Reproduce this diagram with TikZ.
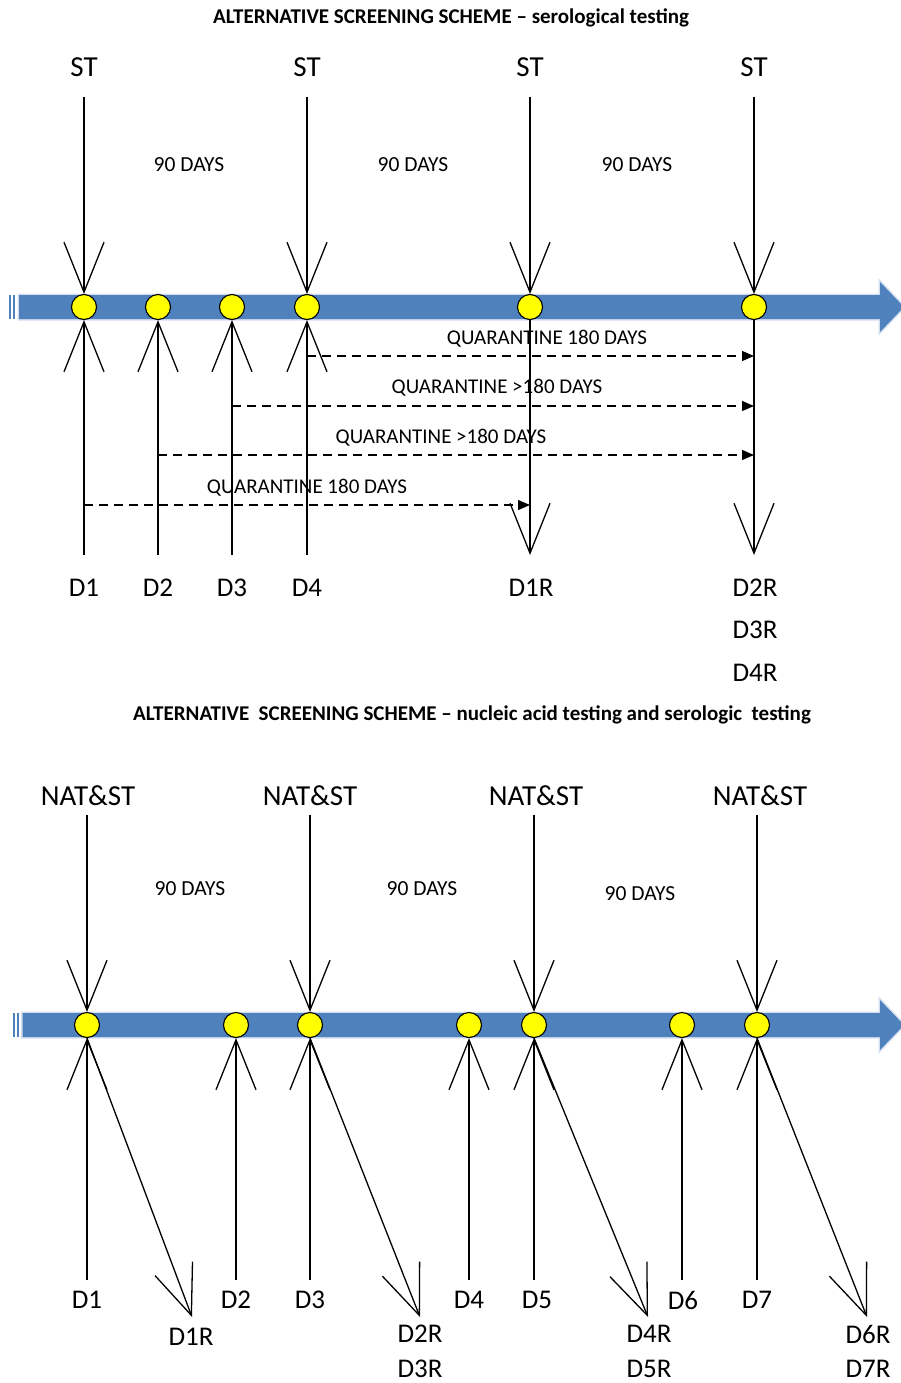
\documentclass[tikz,border=0pt]{standalone}
\usepackage{fontspec}
\setmainfont{Carlito}
\usetikzlibrary{arrows.meta}
\definecolor{bandblue}{RGB}{79,129,189}
\definecolor{glowblue}{RGB}{180,200,230}
\definecolor{dotyellow}{RGB}{255,255,0}
\tikzset{
  Wide/.tip={Straight Barb[length=50pt,width=40pt]},
  Head/.tip={Triangle[length=12pt,width=10pt]},
  conn/.style={line width=1.3pt,draw=black},
  dot/.style={circle,draw=black,line width=1.1pt,fill=dotyellow,minimum size=25pt,inner sep=0pt},
  quar/.style={line width=1.1pt,dash pattern=on 9pt off 6pt,-Head},
  band/.style={fill=bandblue},
  glow/.style={draw=glowblue,line width=3pt,opacity=0.6},
  ttl/.style={font=\fontsize{21}{23}\selectfont\bfseries},
  big/.style={font=\fontsize{29}{31}\selectfont},
  dlab/.style={font=\fontsize{27}{29}\selectfont},
  days/.style={font=\fontsize{21.5}{23}\selectfont},
  qlab/.style={font=\fontsize{21}{23}\selectfont},
}
\begin{document}
\begin{tikzpicture}[x=1pt,y=-1pt]
\useasboundingbox (0,0) rectangle (901,1383);
\clip (0,0) rectangle (901,1383);

% ===================== TOP PANEL =====================
\node[ttl] (title1) at (451,18) {ALTERNATIVE SCREENING SCHEME -- serological testing};

% band
\path[glow] (19,295) -- (880,295) -- (880,282) -- (904,307) -- (880,332) -- (880,319) -- (19,319) -- cycle;
\path[band] (19,295) -- (880,295) -- (880,282) -- (904,307) -- (880,332) -- (880,319) -- (19,319) -- cycle;
\fill[bandblue] (9,295) rectangle (11,319);
\fill[bandblue] (12.5,295) rectangle (14.5,319);

% labels
\foreach \x/\n in {84/1,307/2,530/3,754/4}{
  \node[big] (st\n) at (\x,67) {ST};
  \coordinate (ts\n) at (\x,97);
}
\node[days] (dA) at (189,165) {90 DAYS};
\node[days] (dB) at (413,165) {90 DAYS};
\node[days] (dC) at (637,165) {90 DAYS};

% dots
\node[dot] (a1) at (84,307) {};
\node[dot] (a2) at (158,307) {};
\node[dot] (a3) at (232,307) {};
\node[dot] (a4) at (307,307) {};
\node[dot] (a5) at (530,307) {};
\node[dot] (a6) at (754,307) {};

% ST arrows
\draw[conn,-Wide] (ts1) -- (a1.north);
\draw[conn,-Wide] (ts2) -- (a4.north);
\draw[conn,-Wide] (ts3) -- (a5.north);
\draw[conn,-Wide] (ts4) -- (a6.north);

% donor lines
\foreach \x/\n in {84/1,158/2,232/3,307/4,530/5,754/6}{
  \coordinate (be\n) at (\x,555);
}
\draw[conn,Wide-] (a1.south) -- (be1);
\draw[conn,Wide-] (a2.south) -- (be2);
\draw[conn,Wide-] (a3.south) -- (be3);
\draw[conn,Wide-] (a4.south) -- (be4);
\draw[conn,-Wide] (a5.south) -- (be5);
\draw[conn,-Wide] (a6.south) -- (be6);

% quarantine arrows
\coordinate (q4s) at (307,356); \coordinate (q4e) at (754,356);
\coordinate (q3s) at (232,406); \coordinate (q3e) at (754,406);
\coordinate (q2s) at (158,455); \coordinate (q2e) at (754,455);
\coordinate (q1s) at (84,505);  \coordinate (q1e) at (530,505);
\draw[quar] (q4s) -- (q4e);
\draw[quar] (q3s) -- (q3e);
\draw[quar] (q2s) -- (q2e);
\draw[quar] (q1s) -- (q1e);
\node[qlab] (ql4) at (547,339) {QUARANTINE 180 DAYS};
\node[qlab] (ql3) at (497,388) {QUARANTINE >180 DAYS};
\node[qlab] (ql2) at (441,438) {QUARANTINE >180 DAYS};
\node[qlab] (ql1) at (307,488) {QUARANTINE 180 DAYS};

% donor labels
\node[dlab] (D1) at (84,588) {D1};
\node[dlab] (D2) at (158,588) {D2};
\node[dlab] (D3) at (232,588) {D3};
\node[dlab] (D4) at (307,588) {D4};
\node[dlab] (D1R) at (531,588) {D1R};
\node[dlab] (D2R) at (755,588) {D2R};
\node[dlab] (D3R) at (755,630) {D3R};
\node[dlab] (D4R) at (755,673) {D4R};

% ===================== BOTTOM PANEL =====================
\node[ttl] (title2) at (472,715) {ALTERNATIVE\ \ SCREENING SCHEME -- nucleic acid testing and serologic\ \ testing};

\path[glow] (22.5,1013) -- (880,1013) -- (880,1000) -- (904,1025) -- (880,1050) -- (880,1037) -- (22.5,1037) -- cycle;
\path[band] (22.5,1013) -- (880,1013) -- (880,1000) -- (904,1025) -- (880,1050) -- (880,1037) -- (22.5,1037) -- cycle;
\fill[bandblue] (13,1013) rectangle (15,1037);
\fill[bandblue] (16.5,1013) rectangle (18.5,1037);

\foreach \x/\lx/\n in {87/88/1,310/310/2,534/536/3,757/760/4}{
  \node[big] (nat\n) at (\lx,796) {NAT\&ST};
  \coordinate (tn\n) at (\x,815);
}
\node[days] (dD) at (190,889) {90 DAYS};
\node[days] (dE) at (422,889) {90 DAYS};
\node[days] (dF) at (640,894) {90 DAYS};

\node[dot] (b1) at (87,1025) {};
\node[dot] (b2) at (236,1025) {};
\node[dot] (b3) at (310,1025) {};
\node[dot] (b4) at (469,1025) {};
\node[dot] (b5) at (534,1025) {};
\node[dot] (b6) at (682,1025) {};
\node[dot] (b7) at (757,1025) {};

\draw[conn,-Wide] (tn1) -- (b1.north);
\draw[conn,-Wide] (tn2) -- (b3.north);
\draw[conn,-Wide] (tn3) -- (b5.north);
\draw[conn,-Wide] (tn4) -- (b7.north);

\foreach \x/\n in {87/1,236/2,310/3,469/4,534/5,682/6,757/7}{
  \coordinate (bb\n) at (\x,1280);
}
\draw[conn,Wide-] (b1.south) -- (bb1);
\draw[conn,Wide-] (b2.south) -- (bb2);
\draw[conn,Wide-] (b3.south) -- (bb3);
\draw[conn,Wide-] (b4.south) -- (bb4);
\draw[conn,Wide-] (b5.south) -- (bb5);
\draw[conn,Wide-] (b6.south) -- (bb6);
\draw[conn,Wide-] (b7.south) -- (bb7);

% diagonal re-test arrows
\coordinate (r1) at (192,1317);
\coordinate (r2) at (420,1317);
\coordinate (r3) at (648,1317);
\coordinate (r4) at (867,1317);
\draw[conn,-Wide] (b1.south) -- (r1);
\draw[conn,-Wide] (b3.south) -- (r2);
\draw[conn,-Wide] (b5.south) -- (r3);
\draw[conn,-Wide] (b7.south) -- (r4);

\node[dlab] (E1) at (87,1300) {D1};
\node[dlab] (E2) at (236,1300) {D2};
\node[dlab] (E3) at (310,1300) {D3};
\node[dlab] (E4) at (469,1300) {D4};
\node[dlab] (E5) at (537,1300) {D5};
\node[dlab] (E6) at (683,1300) {D6};
\node[dlab] (E7) at (757,1300) {D7};
\node[dlab] (E1R) at (191,1337) {D1R};
\node[dlab] (E2R) at (420,1334) {D2R};
\node[dlab] (E3R) at (420,1369) {D3R};
\node[dlab] (E4R) at (649,1334) {D4R};
\node[dlab] (E5R) at (649,1369) {D5R};
\node[dlab] (E6R) at (868,1334) {D6R};
\node[dlab] (E7R) at (868,1369) {D7R};
\end{tikzpicture}
\end{document}
